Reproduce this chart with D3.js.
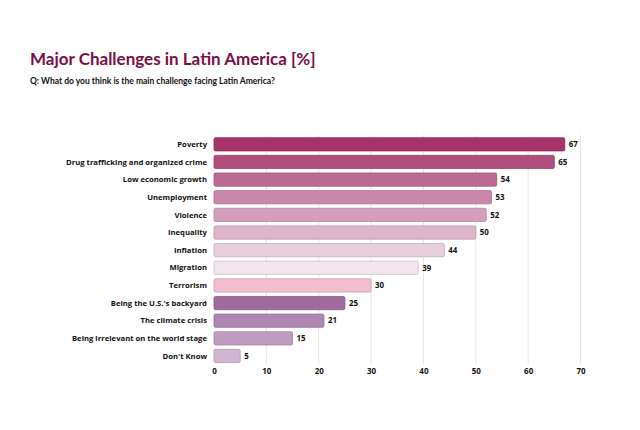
<!DOCTYPE html>
<html>
<head>
<meta charset="utf-8">
<script src="https://cdn.jsdelivr.net/npm/d3@7"></script>
<style>
  body { margin: 0; background: #fff; }
  text { font-family: "Lato", "Noto Sans", sans-serif; }
  .lbl { font-family: "Open Sans", "Noto Sans", sans-serif; }
</style>
</head>
<body>
<div id="chart"></div>
<script>
// data
var categories = ["Poverty", "Drug trafficking and organized crime", "Low economic growth",
  "Unemployment", "Violence", "Inequality", "Inflation", "Migration", "Terrorism",
  "Being the U.S.'s backyard", "The climate crisis", "Being irrelevant on the world stage", "Don't Know"];
var values = [67, 65, 54, 53, 52, 50, 44, 39, 30, 25, 21, 15, 5];
var barColors = ["#a6336a", "#b04f7d", "#bc6a94", "#c987a9", "#d49fbd", "#deb5cb", "#e8cfdc",
  "#f3e6ee", "#f1bfcf", "#9f6b9d", "#ae86b1", "#bf9dc0", "#d0b6d2"];
var xTicks = [0, 10, 20, 30, 40, 50, 60, 70];

var svgWidth = 640;
var svgHeight = 430;

var svg = d3.select("#chart")
  .append("svg")
  .attr("width", svgWidth)
  .attr("height", svgHeight);

// titles
svg.append("text")
  .attr("x", 30)
  .attr("y", 65)
  .attr("font-size", "17px")
  .attr("font-weight", "bold")
  .attr("fill", "#7b0f47")
  .text("Major Challenges in Latin America [%]");

svg.append("text")
  .attr("x", 30)
  .attr("y", 84)
  .attr("font-size", "8.5px")
  .attr("font-weight", "bold")
  .attr("fill", "#111")
  .text("Q: What do you think is the main challenge facing Latin America?");

// scales
var xScale = d3.scaleLinear()
  .domain([0, 70])
  .range([214, 580.5]);

var yScale = d3.scaleBand()
  .domain(categories)
  .range([135.5, 364.8])
  .paddingInner(0.25)
  .paddingOuter(0.125);

// grid lines
svg.append("g")
  .selectAll("line")
  .data(xTicks.slice(1))
  .enter()
  .append("line")
  .attr("x1", d => xScale(d))
  .attr("x2", d => xScale(d))
  .attr("y1", 135)
  .attr("y2", 364)
  .attr("stroke", "#e6e6e6")
  .attr("stroke-width", 1);

// x axis, no domain line
var xAxis = svg.append("g")
  .attr("transform", "translate(0, 364)")
  .call(d3.axisBottom(xScale).tickValues(xTicks).tickSize(0).tickPadding(4));
xAxis.select(".domain").remove();
xAxis.selectAll("text")
  .attr("class", "lbl")
  .attr("font-size", "8px")
  .attr("font-weight", "bold")
  .attr("fill", "#111")
  .style("font-family", "'Open Sans', 'Noto Sans', sans-serif");

// bars
svg.append("g")
  .selectAll("rect")
  .data(values)
  .enter()
  .append("rect")
  .attr("x", xScale(0))
  .attr("y", (d, i) => yScale(categories[i]))
  .attr("width", d => xScale(d) - xScale(0))
  .attr("height", yScale.bandwidth())
  .attr("rx", 1.5)
  .attr("fill", (d, i) => barColors[i])
  .attr("stroke", (d, i) => d3.color(barColors[i]).darker(0.5))
  .attr("stroke-width", 0.8);

// category labels
svg.append("g")
  .selectAll("text")
  .data(categories)
  .enter()
  .append("text")
  .attr("class", "lbl")
  .attr("x", 207)
  .attr("y", d => yScale(d) + yScale.bandwidth() / 2)
  .attr("dy", "0.35em")
  .attr("text-anchor", "end")
  .attr("font-size", "7.7px")
  .attr("font-weight", "bold")
  .attr("fill", "#111")
  .text(d => d);

// value labels
svg.append("g")
  .selectAll("text")
  .data(values)
  .enter()
  .append("text")
  .attr("class", "lbl")
  .attr("x", d => xScale(d) + 4)
  .attr("y", (d, i) => yScale(categories[i]) + yScale.bandwidth() / 2)
  .attr("dy", "0.35em")
  .attr("font-size", "7.9px")
  .attr("font-weight", "bold")
  .attr("fill", "#111")
  .text(d => d);
</script>
</body>
</html>
